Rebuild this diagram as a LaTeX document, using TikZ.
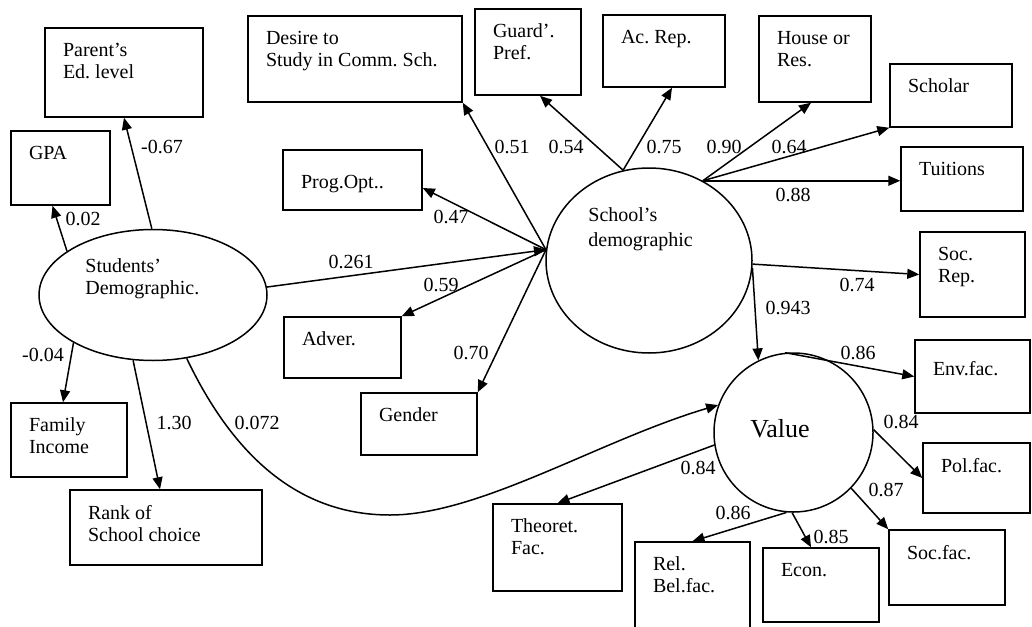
\documentclass[tikz,border=0pt]{standalone}
\usepackage{fontspec}
\setmainfont{Liberation Serif}
\usetikzlibrary{shapes.geometric,arrows.meta,calc}
\frenchspacing
% box text: width px, height px, text (top-left aligned)
\newcommand\bxt[3]{\parbox[c][\dimexpr(#2pt-30pt)/2\relax][t]{\dimexpr(#1pt-36pt)/2\relax}{\raggedright #3}}
\newcommand\lns[2]{\parbox[t]{#1}{\raggedright #2}}
\begin{document}
\begin{tikzpicture}[x=0.5pt,y=-0.5pt,
  font=\fontsize{10}{11}\selectfont,
  box/.style={draw, rectangle, line width=0.75pt, inner xsep=9pt, inner ysep=7.5pt},
  ell/.style={draw, ellipse, line width=0.75pt, inner sep=0pt},
  conn/.style={line width=0.75pt, -{Triangle[length=6pt,width=5pt]}},
  lab/.style={inner sep=0pt},
  txt/.style={inner sep=0pt, anchor=base west}]
\clip (0,0) rectangle (1032,626);

% latent variables
\node[ell, minimum width=114pt, minimum height=65.5pt] (sd) at (153,295) {};
\node[ell, minimum width=103pt, minimum height=92.5pt] (schd) at (649,260.5) {};
\node[ell, minimum width=79.5pt, minimum height=79.5pt] (val) at (793.5,432.5) {};
\node[txt] (sdt) at (85,272) {\lns{70pt}{Students’\\Demographic.}};
\node[txt] (scht) at (588,221.5) {\lns{70pt}{\baselineskip=12.5pt School’s\\demographic}};
\node[txt, font=\fontsize{13}{15}\selectfont] (valt) at (750,437) {Value};

% observed variables
\node[box] (par) at (124,72.5) {\bxt{158}{89}{Parent’s\\Ed. level}};
\node[box] (gpa) at (60.5,168) {\bxt{99}{74}{GPA}};
\node[box] (fam) at (69,440) {\bxt{116}{74}{Family\\Income}};
\node[box] (rank) at (166,527.5) {\bxt{192}{75}{Rank of\\School choice}};
\node[box] (des) at (355,59) {\bxt{214}{86}{Desire to\\Study in Comm. Sch.}};
\node[box] (guard) at (528,52) {\bxt{106}{86}{Guard’.\\Pref.}};
\node[box] (prog) at (352.5,180) {\bxt{139}{60}{\vspace*{5pt}Prog.Opt..}};
\node[box] (acr) at (664,51) {\bxt{122}{72}{Ac. Rep.}};
\node[box] (house) at (815,59) {\bxt{112}{86}{House or\\Res.}};
\node[box] (schol) at (951,95.5) {\bxt{122}{63}{Scholar}};
\node[box] (tuit) at (962,179) {\bxt{122}{64}{Tuitions}};
\node[box] (socrep) at (972.5,274.5) {\bxt{105}{85}{Soc.\\Rep.}};
\node[box] (env) at (972.5,376.5) {\bxt{115}{73}{\vspace*{3pt}Env.fac.}};
\node[box] (pol) at (976.5,478) {\bxt{107}{70}{Pol.fac.}};
\node[box] (socf) at (947,567.5) {\bxt{116}{75}{Soc.fac.}};
\node[box] (econ) at (821,585) {\bxt{116}{74}{Econ.}};
\node[box] (rel) at (692.5,597) {\bxt{115}{110}{Rel.\\Bel.fac.}};
\node[box] (theo) at (557.5,547.5) {\bxt{129}{87}{Theoret.\\Fac.}};
\node[box] (adv) at (342.5,347.5) {\bxt{117}{61}{Adver.}};
\node[box] (gend) at (419,424) {\bxt{116}{62}{Gender}};

% connectors from Students' Demographic
\draw[conn] (sd.91) -- (par.south);
\draw[conn] (sd.153) -- ($(gpa.south)+(-8,0)$);
\draw[conn] (sd.-149) -- ($(fam.north)+(-6,0)$);
\draw[conn] (sd.-107) -- ($(rank.north)+(-6,0)$);
\draw[conn] (sd.4) -- (schd.174);
\draw[conn] (sd.-62) .. controls (240,470) and (310,515) .. (390,515)
  .. controls (480,515) and (600,440) .. (val.160);

% connectors from School's demographic
\draw[conn] (schd.174) -- (des.south east);
\draw[conn] (schd.174) -- ($(prog.east)+(0,8)$);
\draw[conn] (schd.174) -- (adv.north east);
\draw[conn] (schd.174) -- (gend.north east);
\draw[conn] (schd.106) -- ($(guard.south)+(12,0)$);
\draw[conn] (schd.106) -- ($(acr.south)+(8,0)$);
\draw[conn] (schd.56) -- ($(house.south)+(-4,0)$);
\draw[conn] (schd.56) -- (schol.south west);
\draw[conn] (schd.56) -- (schd.56 -| tuit.west);
\draw[conn] (schd.-2) -- (socrep.west);
\draw[conn] (schd.-4) -- (val.116);

% connectors from Value
\draw[conn] (val.96) -- (env.west);
\draw[conn] (val.2) -- (pol.west);
\draw[conn] (val.-44) -- (socf.north west);
\draw[conn] (val.-91) -- ($(econ.north)+(-10,0)$);
\draw[conn] (val.-95) -- (rel.north);
\draw[conn] (val.-171) -- (theo.north);

% coefficient labels
\node[lab] (l1) at (162,147) {-0.67};
\node[lab] (l2) at (83,219) {0.02};
\node[lab] (l3) at (43,355) {-0.04};
\node[lab] (l4) at (174,423) {1.30};
\node[lab] (l5) at (257,423) {0.072};
\node[lab] (l6) at (351,262) {0.261};
\node[lab] (l7) at (512,147) {0.51};
\node[lab] (l8) at (566,147) {0.54};
\node[lab] (l9) at (451,217) {0.47};
\node[lab] (l10) at (441,285) {0.59};
\node[lab] (l11) at (471,353) {0.70};
\node[lab] (l12) at (664,147) {0.75};
\node[lab] (l13) at (724,147) {0.90};
\node[lab] (l14) at (789,147) {0.64};
\node[lab] (l15) at (793,195) {0.88};
\node[lab] (l16) at (857,285) {0.74};
\node[lab] (l17) at (788,308) {0.943};
\node[lab] (l18) at (858,353) {0.86};
\node[lab] (l19) at (901,422) {0.84};
\node[lab] (l20) at (886,490) {0.87};
\node[lab] (l21) at (831,537) {0.85};
\node[lab] (l22) at (733,513) {0.86};
\node[lab] (l23) at (698,468) {0.84};
\end{tikzpicture}
\end{document}
